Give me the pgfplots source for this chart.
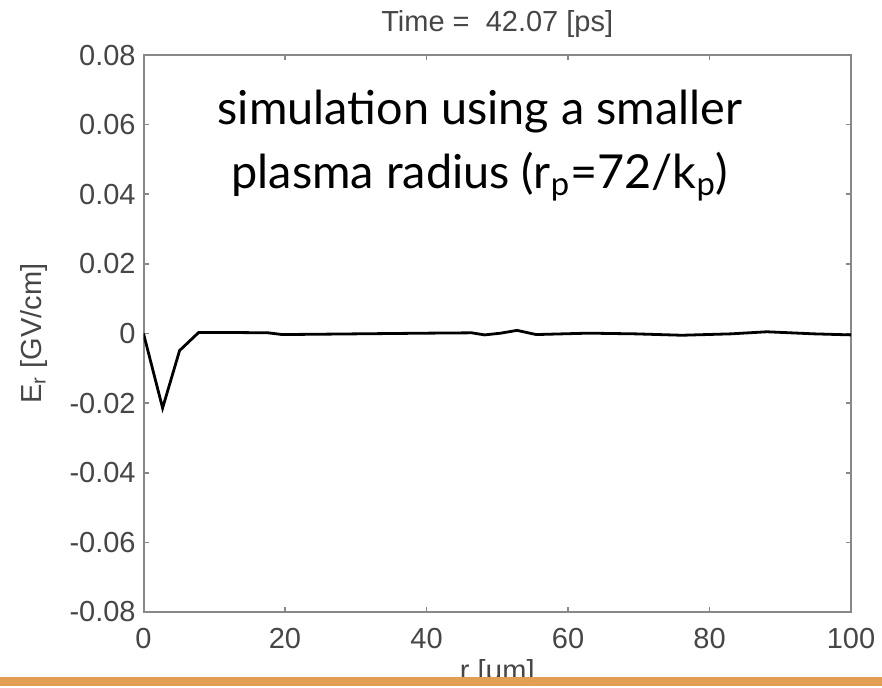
\documentclass[border=0pt]{standalone}
\usepackage{pgfplots}
\pgfplotsset{compat=1.18}
\usepackage{fontspec}
\setmainfont{Liberation Sans}
\newfontfamily\gill{Lato}
\definecolor{axgray}{RGB}{136,136,136}
\definecolor{txtgray}{RGB}{70,70,70}
\definecolor{barorange}{RGB}{226,158,82}
\begin{document}
\begin{tikzpicture}[x=0.5pt,y=0.5pt]
\useasboundingbox (0,0) rectangle (882,687);
\begin{axis}[
  at={(143.5*0.5pt,75*0.5pt)}, anchor=south west,
  scale only axis, width=353.75pt, height=278.5pt,
  xmin=0, xmax=100, ymin=-0.08, ymax=0.08,
  xtick={0,20,...,100},
  ytick={-0.08,-0.06,-0.04,-0.02,0,0.02,0.04,0.06,0.08},
  yticklabels={-0.08,-0.06,-0.04,-0.02,0,0.02,0.04,0.06,0.08},
  /pgf/number format/assume math mode=true,
  tick align=inside, major tick length=2.5pt,
  axis line style={axgray, line width=1pt},
  tick style={axgray, line width=0.8pt},
  ticklabel style={font=\fontsize{14.5}{17}\selectfont, text=txtgray},
  xticklabel style={anchor=base, yshift=-18pt},
  yticklabel style={anchor=east, inner sep=0pt, xshift=-3.75pt},
  scaled y ticks=false,
  title={Time =\ \ 42.07 [ps]},
  title style={font=\fontsize{14.5}{17}\selectfont, text=txtgray, at={(0.5,1)}, anchor=base, yshift=6pt},
  ylabel={E\textsubscript{r} [GV/cm]},
  ylabel style={font=\fontsize{14.5}{17}\selectfont, text=txtgray, at={(axis description cs:-0.155,0.5)}, anchor=center},
  xlabel={r [μm]},
  xlabel style={font=\fontsize{14.5}{17}\selectfont, text=txtgray, at={(axis description cs:0.5,-0.11)}, anchor=center},
]
\addplot[black, line width=1.4pt] coordinates {
(0,0) (2.7,-0.0214) (5.1,-0.0049) (7.8,0.0003) (12,0.0003) (17.6,0.0002)
(19.6,-0.0003) (25,-0.0002) (30,-0.0001) (35,0) (40,0.0001) (46.4,0.0002)
(48.2,-0.0004) (50.5,0.0001) (52.8,0.0009) (55.5,-0.0003) (62.9,0.0001)
(69.5,-0.0001) (76.1,-0.0005) (83,-0.0001) (88.1,0.0005) (94.8,-0.0001) (100,-0.0004)
};
\end{axis}
\node[font=\gill\fontsize{23.4}{28}\selectfont, anchor=base, inner sep=0pt] at (480,562)
  {simulation using a smaller};
\node[font=\gill\fontsize{23.4}{28}\selectfont, anchor=base, inner sep=0pt] at (480,499)
  {plasma radius (r\textsubscript{p}=72/k\textsubscript{p})};
\fill[barorange] (0,1) rectangle (882,10);
\end{tikzpicture}
\end{document}
